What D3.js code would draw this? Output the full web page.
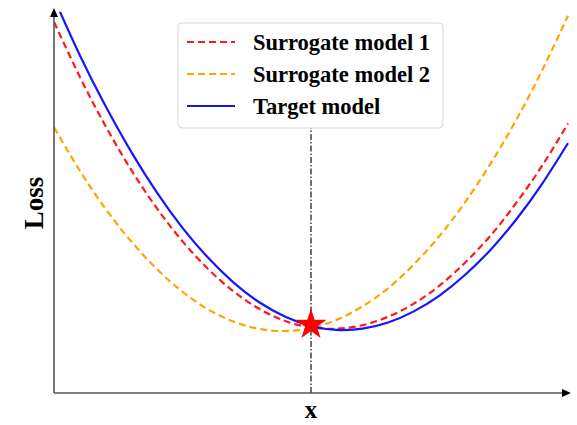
<!DOCTYPE html>
<html>
<head>
<meta charset="utf-8">
<script src="https://cdn.jsdelivr.net/npm/d3@7"></script>
<style>
  body { margin: 0; background: #fff; }
  svg text { font-family: "Liberation Serif", "DejaVu Serif", serif; font-weight: bold; }
</style>
</head>
<body>
<svg id="chart" width="577" height="425"></svg>
<script>
// sample positions along x (0..10, arbitrary units)
const xs = [0, 0.5, 1, 1.5, 2, 2.5, 3, 3.5, 4, 4.5, 5, 5.5, 6, 6.5, 7, 7.5, 8, 8.5, 9, 9.5, 10]

// loss values
const surrogate1 = [9.64, 8.22, 6.94, 5.80, 4.80, 3.94, 3.22, 2.63, 2.18, 1.87, 1.70, 1.67, 1.76, 1.98, 2.32, 2.79, 3.39, 4.10, 4.95, 5.91, 7.00]
const surrogate2 = [6.90, 5.78, 4.79, 3.94, 3.22, 2.63, 2.17, 1.85, 1.66, 1.61, 1.69, 1.90, 2.25, 2.72, 3.34, 4.08, 4.96, 5.97, 7.11, 8.39, 9.80]
const target = [10.25, 8.78, 7.46, 6.27, 5.21, 4.29, 3.51, 2.86, 2.35, 1.98, 1.74, 1.64, 1.67, 1.83, 2.12, 2.53, 3.07, 3.73, 4.52, 5.44, 6.49]

const seriesNames = ['Surrogate model 1', 'Surrogate model 2', 'Target model']
const seriesColors = ['#ff1a1a', '#ffa500', '#1515ff']

const markX = 5
const markY = 1.77

const svg = d3.select('#chart')

const x = d3.scaleLinear().domain([0, 10]).range([54, 568])
const y = d3.scaleLinear().domain([0, 10]).range([393, 8])

const defs = svg.append('defs')
defs.append('clipPath')
    .attr('id', 'plot-clip')
    .append('rect')
    .attr('x', x(0))
    .attr('y', y(9.9))
    .attr('width', x(10) - x(0) + 2)
    .attr('height', y(0) - y(9.9))

// vertical dash-dot marker line
svg.append('line')
    .attr('x1', x(markX))
    .attr('x2', x(markX))
    .attr('y1', y(0))
    .attr('y2', y(7))
    .attr('stroke', '#111')
    .attr('stroke-width', 1.2)
    .attr('stroke-dasharray', '6,2,1.5,2')

const line = d3.line()
    .x(d => x(d[0]))
    .y(d => y(d[1]))
    .curve(d3.curveNatural)

const seriesData = [surrogate1, surrogate2, target]
const gLines = svg.append('g').attr('clip-path', 'url(#plot-clip)')
seriesData.forEach((vals, i) => {
    gLines.append('path')
        .datum(xs.map((v, j) => [v, vals[j]]))
        .attr('d', line)
        .attr('fill', 'none')
        .attr('stroke', seriesColors[i])
        .attr('stroke-width', 2.2)
        .attr('stroke-dasharray', i < 2 ? '7,4' : null)
})

// star at the shared point
svg.append('path')
    .attr('d', d3.symbol().type(d3.symbolStar).size(300)())
    .attr('transform', `translate(${x(markX)},${y(markY)})`)
    .attr('fill', '#ff0000')

// axes with arrow heads
const axisColor = '#555'
svg.append('line')
    .attr('x1', x(0)).attr('y1', y(0))
    .attr('x2', 564).attr('y2', y(0))
    .attr('stroke', axisColor).attr('stroke-width', 1.6)
svg.append('line')
    .attr('x1', x(0)).attr('y1', y(0))
    .attr('x2', x(0)).attr('y2', 16)
    .attr('stroke', axisColor).attr('stroke-width', 1.6)
svg.append('path')
    .attr('d', `M571,${y(0)} L562,${y(0) - 4} L562,${y(0) + 4} Z`)
    .attr('fill', '#000')
svg.append('path')
    .attr('d', `M${x(0)},8 L${x(0) - 4},17 L${x(0) + 4},17 Z`)
    .attr('fill', '#000')

// axis labels
svg.append('text')
    .attr('x', x(markX))
    .attr('y', 418)
    .attr('text-anchor', 'middle')
    .attr('font-size', 25)
    .text('x')
svg.append('text')
    .attr('transform', 'translate(43,203) rotate(-90)')
    .attr('text-anchor', 'middle')
    .attr('font-size', 27)
    .text('Loss')

// legend
const legend = svg.append('g').attr('transform', 'translate(178,23)')
legend.append('rect')
    .attr('width', 265)
    .attr('height', 105)
    .attr('rx', 4)
    .attr('fill', '#fff')
    .attr('stroke', '#d8d8d8')
    .attr('stroke-width', 1)

const rows = legend.selectAll('g.legend-row')
    .data(seriesNames)
    .enter()
    .append('g')
    .attr('class', 'legend-row')
    .attr('transform', (d, i) => `translate(0,${19 + i * 32})`)

rows.append('line')
    .attr('x1', 9)
    .attr('x2', 57)
    .attr('stroke', (d, i) => seriesColors[i])
    .attr('stroke-width', 2.2)
    .attr('stroke-dasharray', (d, i) => i < 2 ? '7,4' : null)

rows.append('text')
    .attr('x', 75)
    .attr('dy', '0.35em')
    .attr('font-size', 22.5)
    .text(d => d)
</script>
</body>
</html>
